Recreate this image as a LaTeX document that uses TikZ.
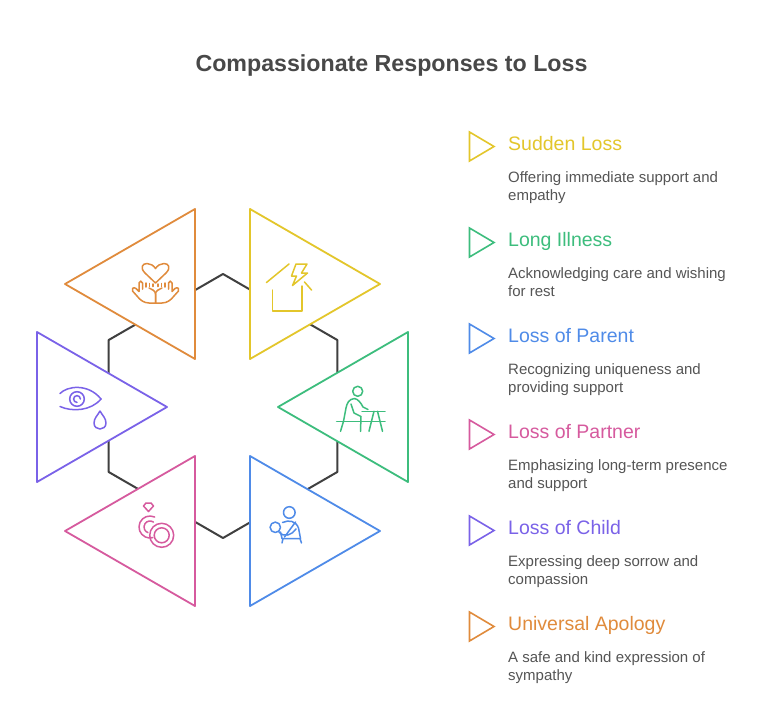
\documentclass[tikz,border=0pt]{standalone}
\usepackage{fontspec}
\setmainfont{Liberation Sans}
\definecolor{cyel}{HTML}{E3C62B}
\definecolor{cgrn}{HTML}{3DBD7D}
\definecolor{cblu}{HTML}{4F8BE8}
\definecolor{cpnk}{HTML}{D65A9E}
\definecolor{cpur}{HTML}{7A62E8}
\definecolor{corg}{HTML}{E08B3C}
\definecolor{ctitle}{HTML}{484848}
\definecolor{cdesc}{HTML}{555555}
\definecolor{chex}{HTML}{404040}
\tikzset{
  tri/.style={draw=#1, fill=white, line width=1.8pt, line join=round},
  icon/.style={line width=1.5pt, line cap=round, line join=round},
  ltri/.style={draw, line width=1.6pt, line join=miter},
  ttl/.style={anchor=base west, inner sep=0pt, font=\fontsize{19.5}{22}\selectfont},
  dsc/.style={anchor=base west, inner sep=0pt, align=left, text=cdesc, font=\fontsize{15}{18}\selectfont},
}
\begin{document}
\begin{tikzpicture}[x=1pt,y=-1pt]
\useasboundingbox (0,0) rectangle (782,717);
\fill[white] (0,0) rectangle (782,717);
% title
\node[anchor=base, inner sep=0pt, text=ctitle, font=\fontsize{23.2}{26}\selectfont\bfseries] (title) at (391.5,71) {Compassionate Responses to Loss};
% hexagon
\draw[chex, line width=2pt, line join=round] (223,274) -- (337.3,340) -- (337.3,472) -- (223,538) -- (108.7,472) -- (108.7,340) -- cycle;
% big triangles
\draw[tri=corg] (195,209) -- (195,359) -- (65,284) -- cycle;
\draw[tri=cyel] (250,209) -- (250,359) -- (380,284) -- cycle;
\draw[tri=cpur] (37,332) -- (37,482) -- (167,407) -- cycle;
\draw[tri=cgrn] (408,332) -- (408,482) -- (278,407) -- cycle;
\draw[tri=cpnk] (195,456) -- (195,606) -- (65,531) -- cycle;
\draw[tri=cblu] (250,456) -- (250,606) -- (380,531) -- cycle;
% --- icon: heart and hands (orange)
\begin{scope}[icon, corg]
  \draw (155.5,283) -- (145,273) .. controls (140,268) and (142,263.5) .. (147,263.5) .. controls (150.5,263.5) and (153.5,265.5) .. (155.5,268.5) .. controls (157.5,265.5) and (160.5,263.5) .. (164,263.5) .. controls (169,263.5) and (171,268) .. (166,273) -- cycle;
  \foreach \s in {0,1}{
    \begin{scope}[shift={(311*\s,0)}, xscale={1-2*\s}]
      \draw (155.5,303) -- (149,303) .. controls (144,303) and (140,300) .. (137,296) -- (132.5,291) .. controls (131,289) and (133.5,286.5) .. (136,288.5) -- (139,291.5) -- (139,283) .. controls (139,280.5) and (142.5,280.5) .. (142.5,283) -- (142.5,289);
      \draw (155.5,303) -- (155.5,294) .. controls (155.5,291) and (152,289) .. (149,288);
      \draw (146,283) -- (146,287);
      \draw (149.5,283.5) -- (149.5,286.5);
      \draw (153,284) -- (153,286.5);
    \end{scope}
  }
\end{scope}
% --- icon: house with lightning (yellow)
\begin{scope}[icon, cyel]
  \draw (266.5,282.5) -- (289,264);
  \draw (304.5,282) -- (311.5,290);
  \draw (272.5,290) -- (272.5,311) -- (302,311) -- (302,286);
  \draw (296,264) -- (307,264) -- (301.5,273) -- (307.5,273) -- (292.5,285.5) -- (296.5,276) -- (291.5,276) -- cycle;
\end{scope}
% --- icon: eye with tear (purple)
\begin{scope}[icon, cpur]
  \draw (60,393.5) .. controls (67,386) and (88,383) .. (101,399);
  \draw (101,399) .. controls (91,411) and (72,412) .. (60,406.5);
  \draw (77,399) circle[radius=7.3];
  \draw (77,399) ++(0:3.4) arc[start angle=0, end angle=-270, radius=3.4];
  \draw (100,411) .. controls (98,415) and (94,418) .. (94,423) .. controls (94,431) and (106,431) .. (106,423) .. controls (106,418) and (102,415) .. (100,411) -- cycle;
\end{scope}
% --- icon: person at desk (green)
\begin{scope}[icon, cgrn]
  \draw (357.7,391.3) circle[radius=5];
  \draw (362,411.3) -- (385,411.3);
  \draw (336.7,421.3) -- (385,421.3);
  \draw (374,411.3) -- (369,431.3);
  \draw (377.5,411.3) -- (382.5,431.3);
  \draw (354.5,398.5) .. controls (349,399) and (347,403) .. (346,408) -- (343.5,421.3) -- (340.5,431.3);
  \draw (354.5,398.5) .. controls (358,399) and (361,403) .. (363,407) -- (368,409.5);
  \draw (351,404) -- (354,413) -- (361,416.5) -- (360.5,431.3);
\end{scope}
% --- icon: rings (pink)
\begin{scope}[icon, cpnk]
  \draw (146,503) -- (151,503) -- (153.5,506) -- (148.5,511.5) -- (143.5,506) -- cycle;
  \draw (150,527) ++(-65:11) arc[start angle=-65, end angle=-285, radius=11];
  \draw (150,527) ++(-55:6) arc[start angle=-55, end angle=-250, radius=6];
  \draw (161.7,535.3) circle[radius=12];
  \draw (161.7,535.3) circle[radius=7.5];
\end{scope}
% --- icon: parent holding child (blue)
\begin{scope}[icon, cblu]
  \draw (289.3,512.5) circle[radius=5.8];
  \draw (275.3,527.3) circle[radius=5.2];
  \draw (282.5,522.5) .. controls (289,519.5) and (296,521) .. (298.5,528) -- (300.5,538.5);
  \draw (295.5,522) -- (284.5,537);
  \draw (279,532) .. controls (284,538) and (292,535) .. (296,529);
  \draw (280.5,532) -- (282,538.5) -- (300.5,538.5);
  \draw (283,538.5) -- (282,543);
  \draw (300,538.5) -- (301.5,543);
\end{scope}
% legend
\foreach \k/\col/\tname/\la/\lb in {
  0/cyel/{Sudden Loss}/{Offering immediate support and}/{empathy},
  1/cgrn/{Long Illness}/{Acknowledging care and wishing}/{for rest},
  2/cblu/{Loss of Parent}/{Recognizing uniqueness and}/{providing support},
  3/cpnk/{Loss of Partner}/{Emphasizing long-term presence}/{and support},
  4/cpur/{Loss of Child}/{Expressing deep sorrow and}/{compassion},
  5/corg/{Universal Apology}/{A safe and kind expression of}/{sympathy}}{
  \pgfmathsetmacro{\yc}{146.5+96*\k}
  \draw[ltri, \col] (469.5,\yc-14.5) -- (469.5,\yc+14.5) -- (494,\yc) -- cycle;
  \node[ttl, text=\col] (t\k) at (508,\yc+4.2) {\tname};
  \node[dsc] (d\k) at (508,\yc+36.2) {\la};
  \node[dsc] (e\k) at (508,\yc+54.2) {\lb};
}
\end{tikzpicture}
\end{document}
